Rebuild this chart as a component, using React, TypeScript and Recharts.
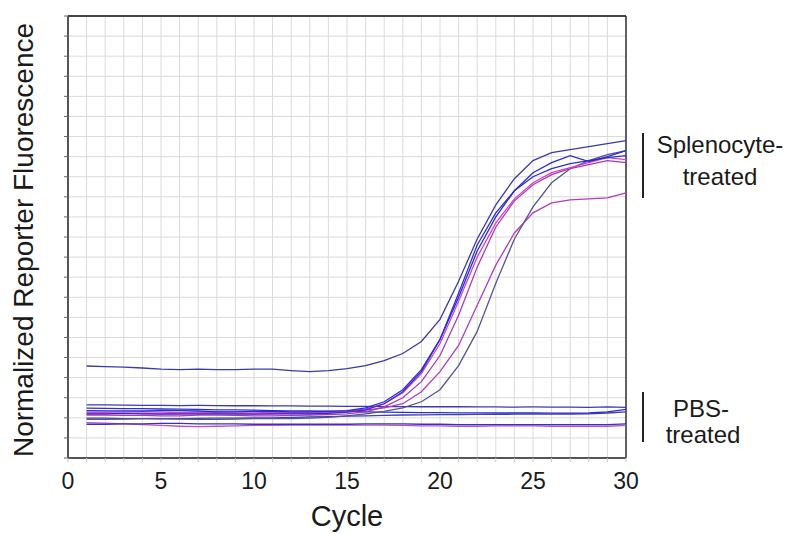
import React from 'react'
import { LineChart, Line, XAxis, YAxis, CartesianGrid, ReferenceLine } from 'recharts'

// qPCR amplification plot: Rn (arbitrary grid units) per cycle
const CYCLES = [1, 2, 3, 4, 5, 6, 7, 8, 9, 10, 11, 12, 13, 14, 15, 16, 17, 18, 19, 20, 21, 22, 23, 24, 25, 26, 27, 28, 29, 30]

const X_TICKS = [0, 1, 2, 3, 4, 5, 6, 7, 8, 9, 10, 11, 12, 13, 14, 15, 16, 17, 18, 19, 20, 21, 22, 23, 24, 25, 26, 27, 28, 29, 30]
const Y_TICKS = [0, 1, 2, 3, 4, 5, 6, 7, 8, 9, 10, 11, 12, 13, 14, 15, 16, 17, 18, 19, 20, 21, 22]

// splenocyte-treated wells
const SPL_H = [4.58, 4.55, 4.52, 4.48, 4.42, 4.4, 4.42, 4.4, 4.4, 4.42, 4.42, 4.35, 4.3, 4.35, 4.45, 4.6, 4.85, 5.2, 5.8, 6.9, 8.8, 10.9, 12.6, 13.9, 14.8, 15.2, 15.35, 15.5, 15.65, 15.8]
const SPL_2 = [2.36, 2.35, 2.35, 2.34, 2.36, 2.36, 2.34, 2.3, 2.3, 2.32, 2.32, 2.3, 2.3, 2.32, 2.36, 2.5, 2.8, 3.4, 4.4, 5.9, 8.0, 10.3, 12.0, 13.3, 14.2, 14.7, 15.05, 14.75, 15.0, 15.3]
const SPL_3 = [2.28, 2.28, 2.3, 2.3, 2.28, 2.26, 2.28, 2.3, 2.3, 2.28, 2.26, 2.26, 2.28, 2.3, 2.34, 2.45, 2.7, 3.25, 4.2, 5.7, 7.8, 10.0, 11.7, 12.9, 13.7, 14.2, 14.45, 14.7, 14.95, 14.85]
const SPL_4 = [2.14, 2.14, 2.12, 2.12, 2.1, 2.1, 2.14, 2.14, 2.12, 2.1, 2.1, 2.12, 2.14, 2.16, 2.2, 2.3, 2.55, 3.0, 3.8, 5.1, 7.1, 9.5, 11.5, 12.8, 13.6, 14.1, 14.4, 14.6, 14.8, 14.7]
const SPL_5 = [2.2, 2.2, 2.22, 2.2, 2.18, 2.18, 2.2, 2.2, 2.18, 2.18, 2.2, 2.2, 2.2, 2.22, 2.28, 2.4, 2.7, 3.3, 4.3, 5.9, 8.2, 10.6, 12.2, 13.3, 14.0, 14.4, 14.65, 14.8, 14.95, 15.05]
const SPL_L1 = [1.92, 1.92, 1.94, 1.96, 1.96, 1.94, 1.92, 1.92, 1.94, 1.96, 1.96, 1.96, 1.98, 2.02, 2.1, 2.2, 2.32, 2.5, 2.8, 3.4, 4.6, 6.3, 8.7, 10.9, 12.5, 13.7, 14.4, 14.8, 15.1, 15.3]
const SPL_L2 = [2.24, 2.24, 2.22, 2.22, 2.2, 2.22, 2.24, 2.24, 2.22, 2.2, 2.2, 2.22, 2.24, 2.26, 2.3, 2.38, 2.5, 2.7, 3.3, 4.3, 5.6, 7.6, 9.6, 11.2, 12.2, 12.7, 12.85, 12.9, 12.95, 13.2]

// PBS-treated wells
const PBS_1 = [2.64, 2.64, 2.63, 2.62, 2.62, 2.61, 2.62, 2.61, 2.6, 2.6, 2.59, 2.59, 2.58, 2.58, 2.57, 2.57, 2.56, 2.56, 2.55, 2.55, 2.55, 2.54, 2.54, 2.53, 2.54, 2.53, 2.53, 2.52, 2.54, 2.52]
const PBS_2 = [2.48, 2.47, 2.46, 2.46, 2.44, 2.43, 2.42, 2.4, 2.4, 2.38, 2.36, 2.35, 2.34, 2.33, 2.32, 2.3, 2.28, 2.27, 2.26, 2.26, 2.25, 2.25, 2.24, 2.24, 2.24, 2.23, 2.23, 2.24, 2.3, 2.42]
const PBS_3 = [1.98, 1.98, 1.96, 1.96, 1.95, 1.96, 1.97, 1.98, 1.98, 1.99, 2.0, 2.02, 2.04, 2.06, 2.08, 2.1, 2.12, 2.14, 2.15, 2.16, 2.16, 2.17, 2.17, 2.18, 2.18, 2.18, 2.19, 2.2, 2.24, 2.3]
const PBS_4 = [1.68, 1.68, 1.7, 1.7, 1.72, 1.72, 1.7, 1.7, 1.7, 1.68, 1.68, 1.68, 1.68, 1.68, 1.68, 1.7, 1.7, 1.7, 1.68, 1.68, 1.66, 1.66, 1.66, 1.66, 1.66, 1.66, 1.66, 1.66, 1.66, 1.7]
const PBS_5 = [1.76, 1.74, 1.7, 1.66, 1.62, 1.58, 1.56, 1.58, 1.6, 1.62, 1.62, 1.64, 1.64, 1.64, 1.64, 1.64, 1.64, 1.62, 1.6, 1.6, 1.58, 1.58, 1.6, 1.6, 1.6, 1.58, 1.58, 1.58, 1.58, 1.62]

const SERIES = [
  { key: 'p5', values: PBS_5, color: '#c24fc8' },
  { key: 'p4', values: PBS_4, color: '#3232c4' },
  { key: 'p3', values: PBS_3, color: '#4040a8' },
  { key: 'p2', values: PBS_2, color: '#2d2dd0' },
  { key: 'p1', values: PBS_1, color: '#3a3ab8' },
  { key: 'l2', values: SPL_L2, color: '#b23cbc' },
  { key: 'l1', values: SPL_L1, color: '#55558f' },
  { key: 's4', values: SPL_4, color: '#a83ab8' },
  { key: 's3', values: SPL_3, color: '#d93fc6' },
  { key: 's5', values: SPL_5, color: '#3030c0' },
  { key: 's2', values: SPL_2, color: '#2b2bd6' },
  { key: 'h', values: SPL_H, color: '#3a3aa6' },
]

const data = CYCLES.map((cycle, i) => {
  const row: Record<string, number> = { cycle }
  SERIES.forEach((s) => {
    row[s.key] = s.values[i]
  })
  return row
})

const FONT = '"Liberation Sans", Arial, sans-serif'

export default function App() {
  return (
    <div style={{ position: 'absolute', left: 0, top: 0, width: 798, height: 534, background: '#fff', fontFamily: FONT }}>
      <LineChart width={798} height={534} data={data} margin={{ top: 16, right: 172, left: 58, bottom: 46 }}>
        <CartesianGrid stroke="#dadada" strokeWidth={1} />
        <XAxis
          dataKey="cycle"
          type="number"
          domain={[0, 30]}
          ticks={X_TICKS}
          interval={0}
          height={30}
          tickFormatter={(v: number) => (v % 5 === 0 ? String(v) : '')}
          tick={{ fill: '#1a1a1a', fontSize: 23, fontFamily: FONT }}
          tickLine={{ stroke: '#c8c8c8' }}
          tickSize={4}
          tickMargin={11}
          axisLine={{ stroke: '#555', strokeWidth: 2 }}
        />
        <YAxis
          type="number"
          domain={[0, 22]}
          ticks={Y_TICKS}
          interval={0}
          width={10}
          tickFormatter={() => ''}
          tick={{ fontSize: 1 }}
          tickSize={4}
          tickLine={{ stroke: '#666' }}
          axisLine={{ stroke: '#555', strokeWidth: 2 }}
        />
        <ReferenceLine y={22} stroke="#444" strokeWidth={2} />
        <ReferenceLine x={30} stroke="#333" strokeWidth={1.5} />
        {SERIES.map((s) => (
          <Line
            key={s.key}
            dataKey={s.key}
            type="linear"
            stroke={s.color}
            strokeWidth={1.3}
            dot={false}
            isAnimationActive={false}
          />
        ))}
      </LineChart>
      <svg width={798} height={534} style={{ position: 'absolute', left: 0, top: 0, pointerEvents: 'none' }}>
        <text
          x={33}
          y={240}
          transform="rotate(-90, 33, 240)"
          textAnchor="middle"
          fontSize={28}
          fill="#1a1a1a"
          fontFamily={FONT}
        >
          Normalized Reporter Fluorescence
        </text>
        <text x={347} y={526} textAnchor="middle" fontSize={29} fill="#1a1a1a" fontFamily={FONT}>
          Cycle
        </text>
        <line x1={643} y1={133} x2={643} y2={198} stroke="#222" strokeWidth={2} />
        <text x={720} y={153} textAnchor="middle" fontSize={24} fill="#1a1a1a" fontFamily={FONT}>
          Splenocyte-
        </text>
        <text x={720} y={185} textAnchor="middle" fontSize={24} fill="#1a1a1a" fontFamily={FONT}>
          treated
        </text>
        <line x1={643} y1={392} x2={643} y2={442} stroke="#222" strokeWidth={2} />
        <text x={701} y={417} textAnchor="middle" fontSize={24} fill="#1a1a1a" fontFamily={FONT}>
          PBS-
        </text>
        <text x={703} y={443} textAnchor="middle" fontSize={24} fill="#1a1a1a" fontFamily={FONT}>
          treated
        </text>
      </svg>
    </div>
  )
}
